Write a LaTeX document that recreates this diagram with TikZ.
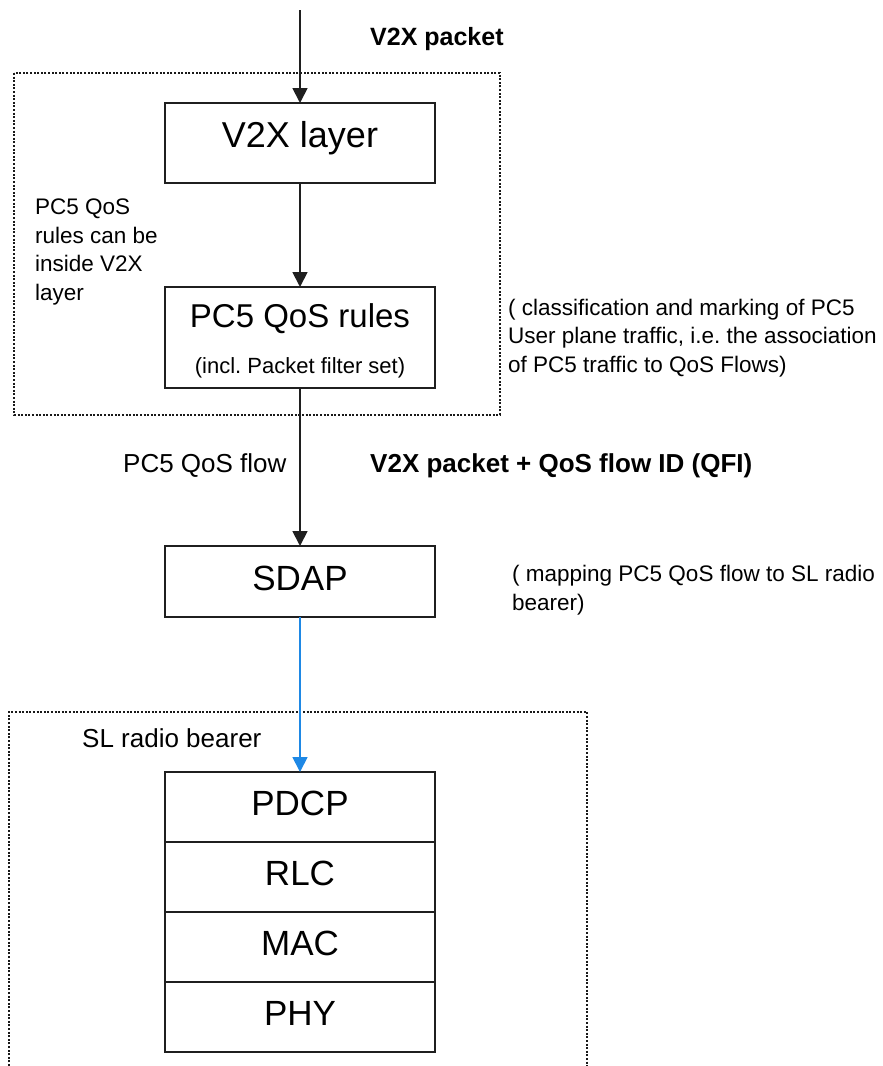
\documentclass[tikz,border=0pt]{standalone}
\usepackage{fontspec}
\setmainfont{Liberation Sans}
\usetikzlibrary{arrows.meta,positioning}
\definecolor{sdapblue}{RGB}{30,136,229}
\frenchspacing
\tikzset{
	stackbox/.style={draw=black!88, line width=1.8pt, minimum width=270pt, inner sep=0pt, outer sep=0pt, text height=43pt, text depth=27pt, font=\fontsize{35}{42}\selectfont},
	pktarrow/.style={line width=1.8pt, color=black!88, -{Triangle[length=15pt,width=15pt]}},
	dotbox/.style={line width=2pt, color=black!90, dash pattern=on 2pt off 1.6pt},
	notetext/.style={inner sep=0pt, align=left, font=\fontsize{22.5}{28.5}\selectfont},
	flowtext/.style={inner sep=0pt, font=\fontsize{26}{31}\selectfont},
}

\begin{document}
\begin{tikzpicture}[x=1pt,y=-1pt]
			%%%%% START %%%%%
			\useasboundingbox (0,0) rectangle (883,1066);
			
			\draw[dotbox] (14,73) rectangle (500,415);
			\draw[dotbox] (9,1066) -- (9,712) -- (587,712) -- (587,1066);
			
			\node[stackbox, anchor=base, font=\fontsize{36}{43}\selectfont, text height=44pt, text depth=36pt] (v2x) at (300,147) {V2X layer};
			\node[stackbox, anchor=base, align=center, font=\fontsize{33}{46}\selectfont, text height=86pt, text depth=15pt] (rules) at (300,373) {PC5 QoS rules\\{\fontsize{22}{46}\selectfont (incl. Packet filter set)}};
			\node[stackbox, anchor=base, text height=44pt, text depth=27pt] (sdap) at (300,590) {SDAP};
			
			\node[stackbox, anchor=base] (pdcp) at (300,815) {PDCP};
			\node[stackbox, below=0pt of pdcp] (rlc) {RLC};
			\node[stackbox, below=0pt of rlc] (mac) {MAC};
			\node[stackbox, below=0pt of mac] (phy) {PHY};
			
			\coordinate (src) at (300,10);
			\draw[pktarrow] (src) -- (v2x);
			\draw[pktarrow] (v2x) -- (rules);
			\draw[pktarrow] (rules) -- (sdap);
			\draw[pktarrow, color=sdapblue] (sdap) -- (pdcp);
			
			\node[flowtext, anchor=base west, font=\bfseries\fontsize{25}{30}\selectfont] (pkt) at (370,45) {V2X packet};
			\node[notetext, anchor=base west] (inside) at (35,300) {PC5 QoS\\rules can be\\inside V2X\\layer};
			\node[notetext, anchor=base west] (classify) at (508,372) {( classification and marking of PC5\\User plane traffic, i.e. the association\\of PC5 traffic to QoS Flows)};
			\node[flowtext, anchor=base west] (qosflow) at (123,472) {PC5 QoS flow};
			\node[flowtext, anchor=base west, font=\bfseries\fontsize{26}{31}\selectfont] (qfi) at (370,472) {V2X packet + QoS flow ID (QFI)};
			\node[notetext, anchor=base west] (mapping) at (512,610) {( mapping PC5 QoS flow to SL radio\\bearer)};
			\node[flowtext, anchor=base west] (slrb) at (82,747) {SL radio bearer};
			
			%%%%% END %%%%%
\end{tikzpicture}
\end{document}
